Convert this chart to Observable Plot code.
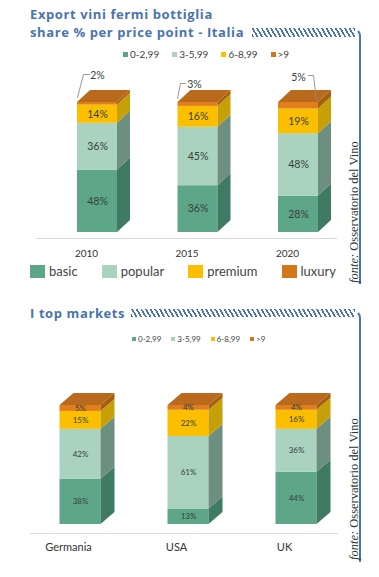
<!DOCTYPE html>
<html><head><meta charset="utf-8">
<script src="https://cdn.jsdelivr.net/npm/d3@7"></script>
<script src="https://cdn.jsdelivr.net/npm/@observablehq/plot@0.6"></script>
<style>
html,body{margin:0;padding:0;background:#fff;}
#page{position:relative;width:379px;height:577px;overflow:hidden;font-family:Lato,"Open Sans",sans-serif;color:#333;}
.title{position:absolute;left:30px;color:#4a74ad;font-family:"Open Sans",sans-serif;font-weight:700;font-size:13px;letter-spacing:0.6px;line-height:18px;white-space:nowrap;}
.hatch{position:absolute;height:9px;background:repeating-linear-gradient(60deg,#4a74ad 0 1.7px,transparent 1.7px 4px);}
.frame{position:absolute;border-top:2px solid #4a74ad;border-right:2.5px solid #4a74ad;border-top-right-radius:8px;border-top-color:transparent;}
.src{position:absolute;transform-origin:left top;transform:rotate(-90deg);white-space:nowrap;font-family:"Liberation Serif","DejaVu Serif",serif;font-size:12.5px;line-height:12px;color:#333;}
.src i{font-style:italic;}
.lg{position:absolute;display:flex;align-items:center;white-space:nowrap;color:#444;}
.lg span.sw{display:inline-block;}
.chart{position:absolute;left:0;}
</style></head>
<body><div id="page"></div>
<script>
// ---- data ----
const years = ["2010", "2015", "2020"];
const basic = [48, 36, 28];
const popular = [36, 45, 48];
const premium = [14, 16, 19];
const luxury = [2, 3, 5];

const markets = ["Germania", "USA", "UK"];
const mBasic = [38, 13, 44];
const mPopular = [42, 61, 36];
const mPremium = [15, 22, 16];
const mLuxury = [5, 4, 4];

const priceBands = ["0-2,99", "3-5,99", "6-8,99", ">9"];
const segments = ["basic", "popular", "premium", "luxury"];

const title1 = ["Export vini fermi bottiglia", "share % per price point - Italia"];
const title2 = "I top markets";
const source = ["fonte:", " Osservatorio del Vino"];

// ---- styles ----
const frontColors = ["#5ea688", "#a9d2bf", "#fcbf00", "#e07d1c"];
const sideColors = ["#3f7b62", "#6c8f80", "#c79f06", "#a5600f"];
const topColor = "#ba6a1c";
const legendColors = ["#5ea688", "#a9d2bf", "#fcbf00", "#d2771a"];

const page = document.getElementById("page");
function el(tag, cls, css, html) {
  const e = document.createElement(tag);
  if (cls) e.className = cls;
  if (css) e.style.cssText = css;
  if (html != null) e.innerHTML = html;
  page.appendChild(e);
  return e;
}

function chart(o) {
  const {cats, series, xRange, yRange, height, depthPx, halfPx, labelSize, axisSize, axisDx, axisDy, ruleDy, ruleX1, callouts} = o;
  const xDomain = [-0.5, cats.length - 0.5];
  const ux = (xDomain[1] - xDomain[0]) / (xRange[1] - xRange[0]);
  const uy = 100 / (yRange[0] - yRange[1]);
  const DX = depthPx[0] * ux, DY = depthPx[1] * uy, hw = halfPx * ux;
  const rows = [];
  cats.forEach((c, i) => {
    let acc = 0;
    series.forEach((s, k) => {
      rows.push({i, k, c, v: s[i], y0: acc, y1: acc + s[i], xa: i - hw, xb: i + hw});
      acc += s[i];
    });
  });
  const side = rows.flatMap(r => [
    {id: r.i + "-" + r.k, x: r.i + hw, lo: r.y0, hi: r.y1, fill: sideColors[r.k]},
    {id: r.i + "-" + r.k, x: r.i + hw + DX, lo: r.y0 + DY, hi: r.y1 + DY, fill: sideColors[r.k]}
  ]);
  const tops = cats.flatMap((c, i) => {
    const t = d3.sum(series, s => s[i]);
    return [
      {id: i, x: i - hw, lo: t, hi: t},
      {id: i, x: i - hw + DX, lo: t, hi: t + DY},
      {id: i, x: i + hw, lo: t, hi: t + DY},
      {id: i, x: i + hw + DX, lo: t + DY, hi: t + DY}
    ];
  });
  const calloutKeys = new Set((callouts || []).map(c => c.i + "-" + c.k));
  const inside = rows.filter(r => !calloutKeys.has(r.i + "-" + r.k));
  const marks = [
    Plot.ruleY([{y: 0, a: ruleX1, b: xDomain[1]}], {y: "y", x1: "a", x2: "b", dy: ruleDy, dx: axisDx, stroke: "#d9d9d9", strokeWidth: 1}),
    Plot.rect(rows, {x1: "xa", x2: "xb", y1: "y0", y2: "y1", fill: d => frontColors[d.k]}),
    Plot.area(side, {x1: "x", y1: "lo", y2: "hi", z: "id", fill: "fill", curve: "linear"}),
    Plot.area(tops, {x1: "x", y1: "lo", y2: "hi", z: "id", fill: topColor, curve: "linear"}),
    Plot.text(inside, {x: "i", y: d => (d.y0 + d.y1) / 2, text: d => d.v + "%", fill: "#34423c", fontSize: labelSize}),
    Plot.text(cats.map((c, i) => ({i, c, y: 0})), {x: "i", y: "y", text: "c", dx: axisDx, dy: axisDy, fill: "#333", fontSize: axisSize})
  ];
  if (callouts) {
    const cRows = callouts.map(c => {
      const r = rows.find(r => r.i === c.i && r.k === c.k);
      const t = r.y1;
      return {
        text: r.v + "%",
        tx: r.i + c.text[0] * ux, ty: t + c.text[1] * uy,
        pts: c.line.map(p => ({id: c.i, x: r.i + p[0] * ux, y: t + p[1] * uy}))
      };
    });
    marks.push(Plot.line(cRows.flatMap(c => c.pts), {x: "x", y: "y", z: "id", stroke: "#8a8a8a", strokeWidth: 0.9, curve: "linear"}));
    marks.push(Plot.text(cRows, {x: "tx", y: "ty", text: "text", fill: "#34423c", fontSize: labelSize}));
  }
  return Plot.plot({
    width: 379, height,
    marginLeft: xRange[0], marginRight: 379 - xRange[1],
    marginTop: yRange[1], marginBottom: height - yRange[0],
    x: {domain: xDomain, axis: null},
    y: {domain: [0, 100], axis: null},
    color: {type: "identity"},
    style: {fontFamily: "Lato, 'Open Sans', sans-serif", background: "transparent", overflow: "visible"},
    marks
  });
}

// ---- top section ----
el("div", "title", "top:5px;", title1.join("<br>"));
el("div", "hatch", "left:252px;top:28px;width:103px;");
el("div", "frame", "left:346px;top:28px;width:13px;height:254px;");
el("div", "src", "left:348px;top:283px;", "<i>" + source[0] + "</i>" + source[1]);

const lg1 = el("div", "lg", "left:123px;top:48px;font-size:10px;line-height:12px;gap:13px;");
priceBands.forEach((b, k) => {
  const it = document.createElement("span");
  it.style.cssText = "display:flex;align-items:center;gap:2px;";
  it.innerHTML = `<span class="sw" style="width:5px;height:5px;background:${legendColors[k]}"></span>${b}`;
  lg1.appendChild(it);
});

const c1 = chart({
  cats: years, series: [basic, popular, premium, luxury],
  xRange: [46.75, 348.25], yRange: [172, 42], height: 200,
  depthPx: [13, 12], halfPx: 20, labelSize: 10.5, axisSize: 10,
  axisDx: -11, axisDy: 21, ruleDy: 6, ruleX1: -0.5,
  callouts: [
    {i: 0, k: 3, text: [0, 27], line: [[-20, 5], [-14, 28], [-8, 28]]},
    {i: 1, k: 3, text: [-3.5, 18], line: [[-20.5, 4], [-17.5, 19], [-12.5, 19]]},
    {i: 2, k: 3, text: [0, 25], line: [[18, 2], [15, 27], [10, 27]]}
  ]
});
c1.classList.add("chart"); c1.style.top = "60px";
page.appendChild(c1);

const lg2 = el("div", "lg", "left:30px;top:264px;font-size:13px;line-height:15px;gap:24px;");
segments.forEach((s, k) => {
  const it = document.createElement("span");
  it.style.cssText = "display:flex;align-items:center;gap:4px;";
  it.innerHTML = `<span class="sw" style="width:15px;height:13px;background:${legendColors[k]}"></span>${s}`;
  lg2.appendChild(it);
});

// ---- bottom section ----
el("div", "title", "top:304px;", title2);
el("div", "hatch", "left:131px;top:309px;width:224px;height:8px;");
el("div", "frame", "left:346px;top:310px;width:13px;height:250px;");
el("div", "src", "left:348px;top:560px;", "<i>" + source[0] + "</i>" + source[1]);

const lg3 = el("div", "lg", "left:132px;top:334px;font-size:8px;line-height:10px;gap:10px;");
priceBands.forEach((b, k) => {
  const it = document.createElement("span");
  it.style.cssText = "display:flex;align-items:center;gap:2px;";
  it.innerHTML = `<span class="sw" style="width:4px;height:4px;background:${legendColors[k]}"></span>${b}`;
  lg3.appendChild(it);
});

const c2 = chart({
  cats: markets, series: [mBasic, mPopular, mPremium, mLuxury],
  xRange: [26, 350], yRange: [164, 45], height: 200,
  depthPx: [14, 12], halfPx: 20.5, labelSize: 8, axisSize: 11,
  axisDx: -12, axisDy: 23, ruleDy: 9, ruleX1: -0.35
});
c2.classList.add("chart"); c2.style.top = "360px";
page.appendChild(c2);
</script></body></html>
